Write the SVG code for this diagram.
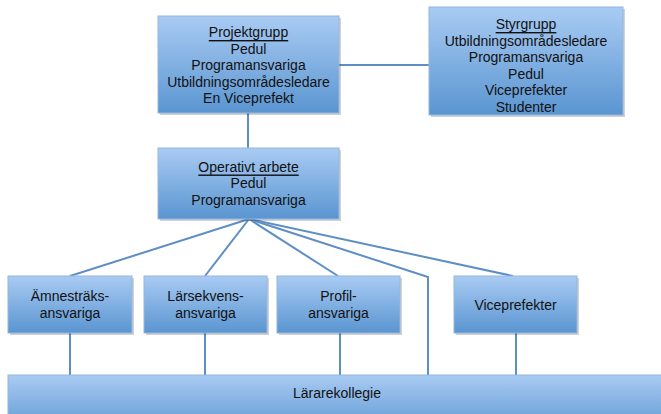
<svg xmlns="http://www.w3.org/2000/svg" width="661" height="414" viewBox="0 0 661 414">
<defs>
<linearGradient id="g" x1="0" y1="0" x2="0" y2="1">
<stop offset="0" stop-color="#a9cbf3"/>
<stop offset="1" stop-color="#5a95d1"/>
</linearGradient>
<style>
.box{fill:url(#g);stroke:#95b6de;stroke-width:1}
.sh{fill:#000;opacity:0.18}
.t{font-family:"Liberation Sans",Arial,Helvetica,sans-serif;font-size:14px;fill:#111;text-anchor:middle;dominant-baseline:central}
.u{text-decoration:underline}
.c{fill:none;stroke:#5d8fc4;stroke-width:2}
</style>
</defs>
<rect width="661" height="414" fill="#fff"/>
<g id="connectors">
<line class="c" x1="339" y1="65" x2="429" y2="65"/>
<line class="c" x1="248" y1="113" x2="248" y2="148"/>
<line class="c" x1="249" y1="219" x2="70" y2="276"/>
<line class="c" x1="249" y1="219" x2="205" y2="276"/>
<line class="c" x1="249" y1="219" x2="338" y2="276"/>
<polyline class="c" points="249,219 428,277 428,375"/>
<line class="c" x1="249" y1="219" x2="513" y2="276"/>
<line class="c" x1="70" y1="333" x2="70" y2="375"/>
<line class="c" x1="205" y1="333" x2="205" y2="375"/>
<line class="c" x1="340" y1="333" x2="340" y2="375"/>
<line class="c" x1="516" y1="333" x2="516" y2="375"/>
</g>
<g id="projektgrupp">
<rect class="sh" x="160" y="18" width="181" height="97"/>
<rect class="box" x="158" y="16" width="181" height="97"/>
<text class="t u" x="248.5" y="32">Projektgrupp</text>
<text class="t" x="248.5" y="48.5">Pedul</text>
<text class="t" x="248.5" y="65">Programansvariga</text>
<text class="t" x="248.5" y="81.5">Utbildningsområdesledare</text>
<text class="t" x="248.5" y="98">En Viceprefekt</text>
</g>
<g id="styrgrupp">
<rect class="sh" x="431" y="9" width="194" height="108"/>
<rect class="box" x="429" y="7" width="194" height="108"/>
<text class="t u" x="526" y="24">Styrgrupp</text>
<text class="t" x="526" y="40.6">Utbildningsområdesledare</text>
<text class="t" x="526" y="57.2">Programansvariga</text>
<text class="t" x="526" y="73.8">Pedul</text>
<text class="t" x="526" y="90.4">Viceprefekter</text>
<text class="t" x="526" y="107">Studenter</text>
</g>
<g id="operativt">
<rect class="sh" x="160" y="150" width="181" height="71"/>
<rect class="box" x="158" y="148" width="181" height="71"/>
<text class="t u" x="248.5" y="166.5">Operativt arbete</text>
<text class="t" x="248.5" y="183">Pedul</text>
<text class="t" x="248.5" y="199.5">Programansvariga</text>
</g>
<g id="amnestraks">
<rect class="sh" x="10" y="278" width="124" height="57"/>
<rect class="box" x="8" y="276" width="124" height="57"/>
<text class="t" x="70" y="296">Ämnesträks-</text>
<text class="t" x="70" y="313">ansvariga</text>
</g>
<g id="larsekvens">
<rect class="sh" x="146" y="278" width="123" height="57"/>
<rect class="box" x="144" y="276" width="123" height="57"/>
<text class="t" x="205.5" y="296">Lärsekvens-</text>
<text class="t" x="205.5" y="313">ansvariga</text>
</g>
<g id="profil">
<rect class="sh" x="279" y="278" width="123" height="57"/>
<rect class="box" x="277" y="276" width="123" height="57"/>
<text class="t" x="338.5" y="296">Profil-</text>
<text class="t" x="338.5" y="313">ansvariga</text>
</g>
<g id="viceprefekter">
<rect class="sh" x="456" y="278" width="123" height="57"/>
<rect class="box" x="454" y="276" width="123" height="57"/>
<text class="t" x="515.5" y="304.5">Viceprefekter</text>
</g>
<g id="lararekollegie">
<rect class="box" x="8" y="375" width="660" height="60"/>
<text class="t" x="337" y="393">Lärarekollegie</text>
</g>
</svg>
